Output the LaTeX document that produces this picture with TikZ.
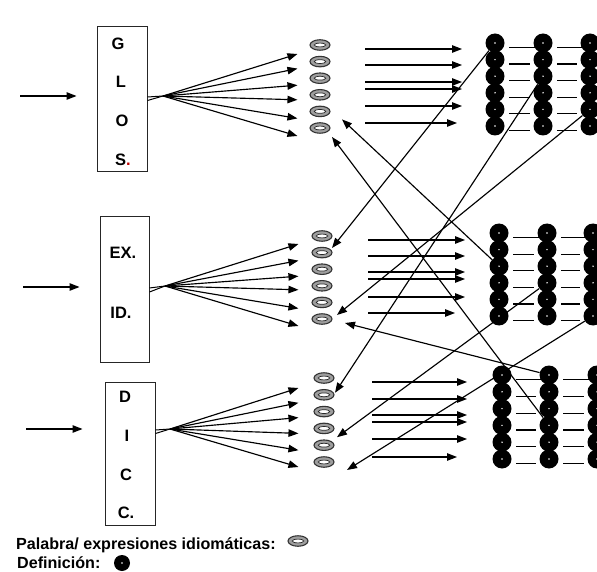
\documentclass[tikz,border=0pt]{standalone}
\usepackage{fontspec}
\setmainfont{Liberation Sans}
\usetikzlibrary{arrows.meta,shapes.geometric,calc}
\begin{document}
\begin{tikzpicture}[x=1pt,y=-1pt,
  conn/.style={line width=1.15pt,-{Triangle[length=10pt,width=7.5pt]}},
  hubline/.style={line width=1pt},
  word/.style={ellipse,draw=black!80,fill=black!38,line width=1.1pt,minimum width=20pt,minimum height=10.5pt,inner sep=0pt,
     path picture={\draw[fill=white,draw=black!85,line width=0.7pt] (path picture bounding box.center) ellipse (5.8pt and 1.9pt);}},
  defn/.style={circle,fill=black,minimum size=19pt,inner sep=0pt,
     path picture={\fill[white] (path picture bounding box.center) circle (0.8pt);}},
  srcbox/.style={draw=black!85,line width=1pt,inner sep=0pt,minimum width=50pt},
  boxtext/.style={font=\fontsize{16.5}{19}\bfseries\selectfont,inner sep=0pt},
  dashline/.style={line width=1.2pt},
  legend/.style={font=\fontsize{16.1}{19}\bfseries\selectfont,anchor=base west,inner sep=0pt}
]
\useasboundingbox (0,0) rectangle (597,572);
\clip (0,0) rectangle (597,572);

% ---------- source boxes ----------
\node[srcbox,minimum height=145pt] (b1) at (122,99.5) {};
\node[srcbox,minimum width=49pt,minimum height=145pt] (b2) at (124.5,289.5) {};
\node[srcbox,minimum height=143pt] (b3) at (130,453.5) {};

\node[boxtext] (t1a) at (118,44) {G};
\node[boxtext] (t1b) at (121,82) {L};
\node[boxtext] (t1c) at (122,121) {O};
\node[boxtext] (t1d) at (123,160) {S\textcolor{red!75!black}{.}};
\node[boxtext] (t2a) at (123,253) {EX.};
\node[boxtext] (t2b) at (121,313) {ID.};
\node[boxtext] (t3a) at (125,397) {D};
\node[boxtext] (t3b) at (127,436) {I};
\node[boxtext] (t3c) at (126,475) {C};
\node[boxtext] (t3d) at (126,513) {C.};

% ---------- input arrows ----------
\coordinate (in1) at (20,96);
\coordinate (in2) at (23,287);
\coordinate (in3) at (26,429);
\draw[conn,shorten >=20pt] (in1) -- (in1 -| b1.west);
\draw[conn,shorten >=20pt] (in2) -- (in2 -| b2.west);
\draw[conn,shorten >=22pt] (in3) -- (in3 -| b3.west);

% ---------- ovals (words) ----------
\foreach \i/\y in {1/45,2/61.6,3/78.2,4/94.8,5/111.4,6/128}
  \node[word] (g1o\i) at (320,\y) {};
\foreach \i/\y in {1/236,2/252.6,3/269.2,4/285.8,5/302.4,6/319}
  \node[word] (g2o\i) at (322,\y) {};
\foreach \i/\y in {1/378,2/394.8,3/411.6,4/428.4,5/445.2,6/462}
  \node[word] (g3o\i) at (324,\y) {};

% ---------- hubs and fans ----------
\coordinate (h1) at (163,96);
\coordinate (h2) at (165,286);
\coordinate (h3) at (170,429);
\draw[hubline] ($(b1.east |- h1)+(0,1)$) -- (h1);
\draw[hubline] ($(b1.east |- h1)+(0,4.5)$) -- (h1);
\draw[hubline] ($(b2.east |- h2)+(0,2)$) -- (h2);
\draw[hubline] ($(b2.east |- h2)+(0,6)$) -- (h2);
\draw[hubline] ($(b3.east |- h3)+(0,1)$) -- (h3);
\draw[hubline] ($(b3.east |- h3)+(0,4.5)$) -- (h3);
\foreach \i/\d in {1/9,2/7,3/7,4/5,5/7,6/8}
  \draw[conn] (h1) -- ($(g1o\i.west)+(-12,\d)$);
\foreach \i/\d in {1/8,2/8,3/7,4/4,5/6,6/7}
  \draw[conn] (h2) -- ($(g2o\i.west)+(-13,\d)$);
\foreach \i/\d in {1/10,2/8,3/6,4/5,5/5,6/5}
  \draw[conn] (h3) -- ($(g3o\i.west)+(-15,\d)$);

% ---------- definitions (circles) ----------
\foreach \c/\x in {1/495,2/543,3/590}
  \foreach \r in {1,...,6}
    \node[defn] (g1c\c-\r) at (\x,{43+16.6*(\r-1)}) {};
\foreach \c/\x in {1/499,2/547,3/593}
  \foreach \r in {1,...,6}
    \node[defn] (g2c\c-\r) at (\x,{233+16.6*(\r-1)}) {};
\foreach \c/\x in {1/502,2/549,3/597}
  \foreach \r in {1,...,6}
    \node[defn] (g3c\c-\r) at (\x,{375+16.8*(\r-1)}) {};

% dashes between columns
\foreach \g in {1,2,3}{
  \draw[dashline] ($(g\g c1-1)+(14,4.5)$) -- ($(g\g c2-1)+(-8,4.5)$);
  \draw[dashline] ($(g\g c2-1)+(14,4.5)$) -- ($(g\g c3-1)+(-8,4.5)$);
  \foreach \r in {2,...,6}{
    \draw[dashline] ($(g\g c1-\r)+(14,4.5)$) -- ($(g\g c2-\r)+(-13,4.5)$);
    \draw[dashline] ($(g\g c2-\r)+(14,4.5)$) -- ($(g\g c3-\r)+(-13,4.5)$);
  }
}

% ---------- horizontal arrows (words -> definitions) ----------
\foreach \k/\y/\xe in {1/49/462,2/65/462,3/82/462,4/89/462,5/106/462,6/123/457}{
  \coordinate (a1s\k) at (365,\y); \coordinate (a1e\k) at (\xe,\y);
  \draw[conn] (a1s\k) -- (a1e\k);
}
\foreach \k/\y/\xe in {1/240/465,2/256/465,3/272/465,4/279/465,5/297/465,6/313/455}{
  \coordinate (a2s\k) at (368,\y); \coordinate (a2e\k) at (\xe,\y);
  \draw[conn] (a2s\k) -- (a2e\k);
}
\foreach \k/\y/\xe in {1/382/467,2/399/467,3/415/467,4/422/467,5/439/467,6/457/457}{
  \coordinate (a3s\k) at (372,\y); \coordinate (a3e\k) at (\xe,\y);
  \draw[conn] (a3s\k) -- (a3e\k);
}

% ---------- cross connections ----------
\draw[conn] (g1c1-1) -- ($(g2o2)+(10,-4.6)$);
\draw[conn] (g1c2-3) -- ($(g3o2)+(11,-2)$);
\draw[conn] (g1c3-5) -- ($(g2o6)+(15,-4)$);
\draw[conn] (g2c1-3) -- ($(g1o5)+(22,8)$);
\draw[conn] (g3c2-4) -- ($(g1o6)+(12,9)$);
\draw[conn] (g3c2-1) -- ($(g2o6)+(23,4)$);
\draw[conn] (g2c2-4) -- ($(g3o5)+(13,-8)$);
\draw[conn] (g2c3-6) -- ($(g3o6)+(23,8)$);

% ---------- legend ----------
\node[legend] (lg1) at (16,549) {Palabra/ expresiones idiomáticas:};
\node[word] (lgo) at (298,541) {};
\node[legend] (lg2) at (17,568) {Definición:};
\node[defn,minimum size=16pt] (lgc) at (122,563) {};
\end{tikzpicture}
\end{document}
